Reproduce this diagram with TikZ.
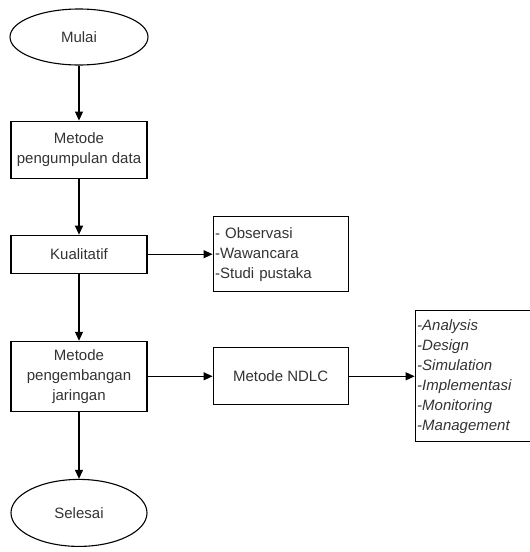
\documentclass[tikz,border=0pt]{standalone}
\usepackage{fontspec}
\setmainfont{Liberation Sans}
\usetikzlibrary{arrows.meta,positioning,shapes.geometric}
\tikzset{kotak/.style={draw,line width=1.1pt,minimum width=136pt,align=center,inner sep=2pt},
 ujung/.style={kotak,ellipse,minimum width=138pt,minimum height=56pt},
 daftar/.style={kotak,align=left,minimum width=0pt},
 panah/.style={-{Triangle[length=9pt,width=8pt]},line width=1.1pt},
 every node/.style={font=\fontsize{15}{20}\selectfont,text=black!80}}

\begin{document}
\begin{tikzpicture}[node distance=55pt,x=1pt,y=1pt]
\useasboundingbox (0,0) rectangle (530,-552);
\node[ujung] (mulai) at (79,-37) {Mulai};
\node[kotak,minimum height=57pt,below=of mulai] (data) {Metode\\pengumpulan data};
\node[kotak,minimum height=38pt,below=56pt of data] (kual) {Kualitatif};
\node[kotak,minimum height=70pt,below=67pt of kual] (jar) {Metode\\pengembangan\\jaringan};
\node[ujung,minimum width=136pt,minimum height=67pt,below=67pt of jar] (selesai) {Selesai};
\node[daftar,text width=131pt,minimum height=75pt,right=65pt of kual] (obs) {- Observasi\\-Wawancara\\-Studi pustaka};
\node[kotak,minimum width=135pt,minimum height=57pt,right=65pt of jar] (ndlc) {Metode NDLC};
\node[daftar,text width=114pt,minimum height=131pt,right=66pt of ndlc,font=\fontsize{15}{20}\selectfont\itshape] (tahap) {-Analysis\\-Design\\-Simulation\\-Implementasi\\-Monitoring\\-Management};
\foreach \u/\v in {mulai/data,data/kual,kual/jar,jar/selesai,kual/obs,jar/ndlc,ndlc/tahap}{\draw[panah] (\u)--(\v);}
\end{tikzpicture}
\end{document}
